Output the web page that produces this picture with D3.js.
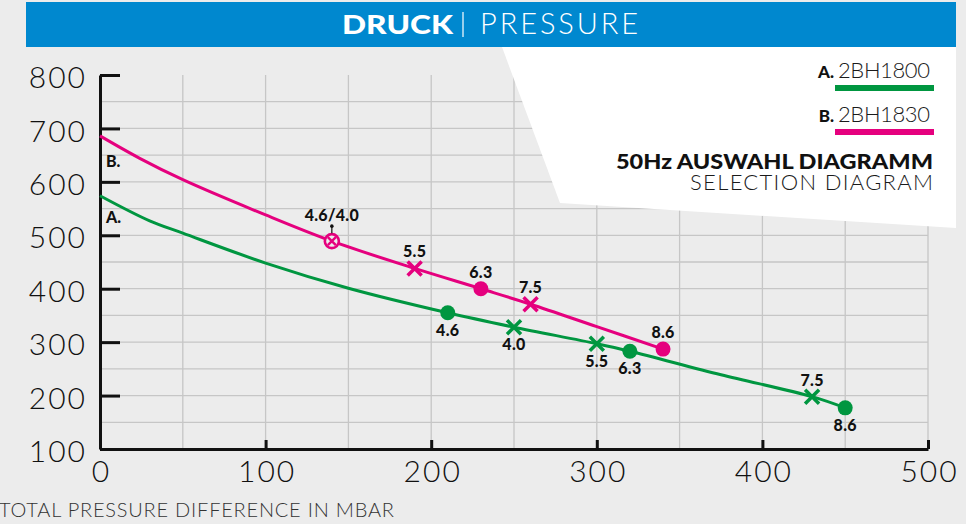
<!DOCTYPE html>
<html>
<head>
<meta charset="utf-8">
<script src="https://cdn.jsdelivr.net/npm/d3@7"></script>
<style>
	body{margin:0;background:#ececec;}
	svg{display:block;}
	.light{font-family:Lato,Inter,sans-serif;font-weight:300;fill:#1a1a1a;}
	.heavy{font-family:Lato,Inter,sans-serif;font-weight:900;fill:#111;}
	.axis path,.axis line{stroke:#111;stroke-width:3;}
	.axis text{font-family:Lato,Inter,sans-serif;font-weight:300;font-size:30px;fill:#111;letter-spacing:2px;}
	.grid{stroke:#c6c6c6;stroke-width:1.3;}
</style>
</head>
<body>
<script>
(function(){
	//tick values of both axes
	var xTicks=[0,100,200,300,400,500];
	var yTicks=[100,200,300,400,500,600,700,800];
	var gridX=[50,100,150,200,250,300,350,400,450,500];
	var gridY=[150,200,250,300,350,400,450,500,550,600,650,700,750];

	//curve A (2BH1800): mbar / pressure
	var curveAx=[0,30,50,100,150,210,250,300,320,375,430,450];
	var curveAy=[574,527,504,448,401,355,328,297,283,239,198,177];
	//curve B (2BH1830)
	var curveBx=[0,24,50,100,140,190,230,260,300,340];
	var curveBy=[686,644,604,538,489,438,400,371,329,287];

	//operating points on each curve
	var markAx=[210,250,300,320,430,450];
	var markAy=[355,328,297,283,198,177];
	var markAshape=["dot","cross","cross","dot","cross","dot"];
	var markAlabel=["4.6","4.0","5.5","6.3","7.5","8.6"];
	var markBx=[140,190,230,260,340];
	var markBy=[489,438,400,371,287];
	var markBshape=["ring","cross","dot","cross","dot"];
	var markBlabel=["4.6/4.0","5.5","6.3","7.5","8.6"];

	var seriesKeys=["A.","B."];
	var seriesNames=["2BH1800","2BH1830"];
	var seriesColors=["#009640","#e5007e"];

window.onload=drawChart();

function drawChart(){
	var width=966,height=524;

	var svg=d3.select("body")
		.append("svg")
		.attr("width",width)
		.attr("height",height);

	//scales
	var x=d3.scaleLinear().domain([0,500]).range([100,928]);
	var y=d3.scaleLinear().domain([100,800]).range([449,75]);

	//grid lines
	svg.selectAll(".gx")
		.data(gridX)
		.enter()
		.append("line")
		.attr("class","grid")
		.attr("x1",function(d){return x(d);})
		.attr("x2",function(d){return x(d);})
		.attr("y1",y(800))
		.attr("y2",y(100));
	svg.selectAll(".gy")
		.data(gridY)
		.enter()
		.append("line")
		.attr("class","grid")
		.attr("x1",x(0))
		.attr("x2",x(500))
		.attr("y1",function(d){return y(d);})
		.attr("y2",function(d){return y(d);});

	//white legend panel
	svg.append("polygon")
		.attr("points","502,47 956,47 956,228 560,203")
		.style("fill","#fff");

	//title banner
	svg.append("rect")
		.attr("x",26).attr("y",2)
		.attr("width",930).attr("height",45)
		.style("fill","#0088cf");
	svg.append("text")
		.attr("class","heavy")
		.attr("x",342).attr("y",34)
		.attr("textLength",111)
		.attr("lengthAdjust","spacingAndGlyphs")
		.style("font-size","27px")
		.style("fill","#fff")
		.text("DRUCK");
	svg.append("line")
		.attr("x1",463).attr("x2",463)
		.attr("y1",12).attr("y2",37)
		.style("stroke","#fff").style("stroke-width",1.2);
	svg.append("text")
		.attr("class","light")
		.attr("x",480).attr("y",34)
		.attr("textLength",158)
		.style("font-size","29px")
		.style("fill","#fff")
		.text("PRESSURE");

	//legend
	seriesNames.forEach(function(name,i){
		var base=78+i*44;
		svg.append("text")
			.attr("class","light")
			.attr("x",838).attr("y",base)
			.attr("textLength",92)
			.style("font-size","22px")
			.text(name);
		svg.append("text")
			.attr("class","heavy")
			.attr("x",834).attr("y",base)
			.attr("text-anchor","end")
			.style("font-size","17px")
			.text(seriesKeys[i]);
		svg.append("rect")
			.attr("x",835).attr("y",base+7)
			.attr("width",99).attr("height",6)
			.style("fill",seriesColors[i]);
	});
	svg.append("text")
		.attr("class","heavy")
		.attr("x",616).attr("y",169)
		.attr("textLength",317)
		.attr("lengthAdjust","spacingAndGlyphs")
		.style("font-size","21px")
		.text("50Hz AUSWAHL DIAGRAMM");
	svg.append("text")
		.attr("class","light")
		.attr("x",690).attr("y",190)
		.attr("textLength",243)
		.style("font-size","22px")
		.text("SELECTION DIAGRAM");

	//axes
	var yAxis=d3.axisLeft(y)
		.tickValues(yTicks)
		.tickSize(-20)
		.tickSizeOuter(0)
		.tickPadding(13);
	var yg=svg.append("g")
		.attr("class","axis")
		.attr("transform","translate("+x(0)+",0)")
		.call(yAxis);
	yg.selectAll("text").attr("dy","0.42em");

	var xAxis=d3.axisBottom(x)
		.tickValues(xTicks)
		.tickSize(-9)
		.tickSizeOuter(0)
		.tickPadding(12);
	var xg=svg.append("g")
		.attr("class","axis")
		.attr("transform","translate(0,"+y(100)+")")
		.call(xAxis);
	xg.selectAll("text").attr("dx","1px");

	svg.append("text")
		.attr("class","light")
		.attr("x",-1).attr("y",517)
		.attr("textLength",395)
		.style("font-size","20px")
		.style("fill","#333")
		.text("TOTAL PRESSURE DIFFERENCE IN MBAR");

	//curves
	var line=d3.line()
		.x(function(d){return x(d[0]);})
		.y(function(d){return y(d[1]);})
		.curve(d3.curveCatmullRom.alpha(0.5));
	drawCurve(svg,line,d3.zip(curveAx,curveAy),seriesColors[0]);
	drawCurve(svg,line,d3.zip(curveBx,curveBy),seriesColors[1]);

	//curve letters near the y axis
	svg.append("text").attr("class","heavy")
		.attr("x",106).attr("y",223)
		.style("font-size","16px").text(seriesKeys[0]);
	svg.append("text").attr("class","heavy")
		.attr("x",106).attr("y",167)
		.style("font-size","16px").text(seriesKeys[1]);

	//markers and labels
	drawMarkers(svg,x,y,markAx,markAy,markAshape,markAlabel,seriesColors[0],["7.5"]);
	drawMarkers(svg,x,y,markBx,markBy,markBshape,markBlabel,seriesColors[1],markBlabel);
};

//draw one curve path
function drawCurve(svg,line,points,color){
	svg.append("path")
		.datum(points)
		.attr("d",line)
		.style("fill","none")
		.style("stroke",color)
		.style("stroke-width",3);
};

//draw symbols with their speed labels
function drawMarkers(svg,x,y,xs,ys,shapes,labels,color,aboveList){
	for (var i=0; i<xs.length; i++){
		var cx=x(xs[i]),cy=y(ys[i]);
		var g=svg.append("g").attr("transform","translate("+cx+","+cy+")");
		if (shapes[i]=="dot"){
			g.append("circle").attr("r",7.5).style("fill",color);
		} else if (shapes[i]=="cross"){
			g.append("path")
				.attr("d","M-7,-7L7,7M-7,7L7,-7")
				.style("stroke",color).style("stroke-width",3.5);
		} else {
			g.append("circle").attr("r",7)
				.style("fill","#ececec")
				.style("stroke",color).style("stroke-width",2.6);
			g.append("path")
				.attr("d","M-4,-4L4,4M-4,4L4,-4")
				.style("stroke",color).style("stroke-width",2.4);
			//small pointer from label to ring
			g.append("line").attr("x1",0).attr("x2",0)
				.attr("y1",-15).attr("y2",-8)
				.style("stroke","#111").style("stroke-width",1.2);
			g.append("circle").attr("cy",-15).attr("r",1.8).style("fill","#111");
		};
		var above=aboveList.indexOf(labels[i])>=0;
		var ly=above ? (shapes[i]=="ring" ? -20 : -11) : 23;
		g.append("text")
			.attr("class","heavy")
			.attr("y",ly)
			.attr("text-anchor","middle")
			.style("font-size","16px")
			.style("letter-spacing","0.3px")
			.text(labels[i]);
	};
};

})();
</script>
</body>
</html>
